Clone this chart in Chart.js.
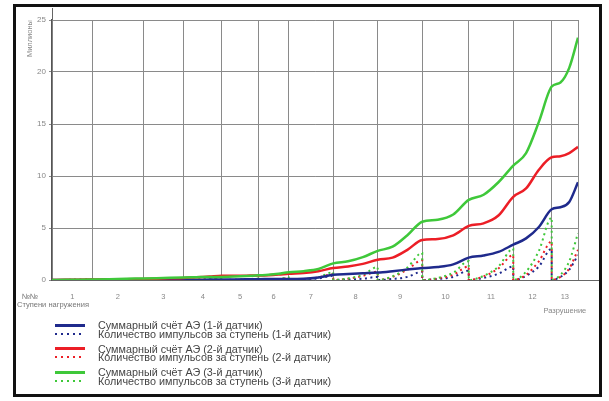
<!DOCTYPE html>
<html>
<head>
<meta charset="utf-8">
<script src="https://cdn.jsdelivr.net/npm/chart.js@4.4.1/dist/chart.umd.min.js"></script>
<style>
  html, body { margin: 0; padding: 0; background: #fff; }
  body { width: 609px; height: 401px; position: relative; overflow: hidden; font-family: "Liberation Sans", Arial, sans-serif; }
  #chart { position: absolute; left: 0; top: 0; }
  #frame { position: absolute; left: 13px; top: 4px; width: 589px; height: 393px; border: 3px solid #111; box-sizing: border-box; pointer-events: none; }
  #legend { position: absolute; left: 55px; top: 321px; font-size: 10.8px; color: #444; }
  .row { display: flex; align-items: center; height: 8.5px; line-height: 8.5px; white-space: nowrap; }
  .row.gap { margin-bottom: 6.5px; }
  .sample { width: 30px; flex: 0 0 30px; margin-right: 13px; }
</style>
</head>
<body>
<canvas id="chart" width="609" height="320"></canvas>
<div id="legend"></div>
<div id="frame"></div>
<script>
// Stage boundaries on the time axis
const stageEdges = [0, 10, 22.5, 32.5, 42, 51, 58.5, 69.5, 80.5, 91.5, 103, 114, 123.5, 130];
const stageLabels = ['1', '2', '3', '4', '5', '6', '7', '8', '9', '10', '11', '12', ['13', 'Разрушение']];
const yTickValues = [0, 5, 10, 15, 20, 25];

const seriesNames = [
  'Суммарный счёт АЭ (1-й датчик)',
  'Количество импульсов за ступень (1-й датчик)',
  'Суммарный счёт АЭ (2-й датчик)',
  'Количество импульсов за ступень (2-й датчик)',
  'Суммарный счёт АЭ (3-й датчик)',
  'Количество импульсов за ступень (3-й датчик)'
];

// Cumulative count, millions: start value, then 3 readings per stage (1/3, 2/3, end)
const sumBlue = [0,
  0, 0, 0,   0, 0, 0,   0.01, 0.01, 0.02,   0.03, 0.04, 0.05,   0.06, 0.07, 0.08,
  0.09, 0.1, 0.1,   0.12, 0.25, 0.5,   0.58, 0.65, 0.72,   0.85, 1.0, 1.15,
  1.25, 1.5, 2.15,   2.35, 2.7, 3.4,   4.0, 5.1, 6.8,   7.0, 7.5, 9.4];
const sumRed = [0,
  0.02, 0.03, 0.05,   0.07, 0.08, 0.1,   0.13, 0.16, 0.2,   0.27, 0.33, 0.4,   0.41, 0.42, 0.43,
  0.46, 0.52, 0.6,   0.68, 0.85, 1.15,   1.3, 1.55, 1.95,   2.15, 2.9, 3.85,
  3.95, 4.3, 5.2,   5.45, 6.2, 8.0,   8.8, 10.6, 11.8,   11.9, 12.2, 12.8];
const sumGreen = [0,
  0.02, 0.03, 0.05,   0.08, 0.12, 0.15,   0.18, 0.22, 0.25,   0.27, 0.29, 0.3,   0.33, 0.38, 0.45,
  0.5, 0.6, 0.75,   0.85, 1.05, 1.6,   1.8, 2.2, 2.8,   3.2, 4.3, 5.6,
  5.8, 6.3, 7.7,   8.2, 9.4, 11.0,   12.2, 15.2, 18.6,   19.0, 20.4, 23.3];

// Count within each stage (resets to 0 at stage start): 3 readings per stage
const stageBlue = [
  0, 0, 0.02,   0, 0, 0.02,   0, 0.01, 0.02,   0, 0.01, 0.03,   0, 0.01, 0.03,   0, 0.01, 0.03,
  0.05, 0.15, 0.4,   0.05, 0.12, 0.3,   0.1, 0.3, 0.8,   0.1, 0.3, 0.9,
  0.2, 0.6, 1.3,   0.4, 1.3, 3.0,   0.3, 1.0, 2.4];
const stageRed = [
  0.01, 0.02, 0.05,   0.01, 0.02, 0.05,   0.02, 0.04, 0.1,   0.04, 0.1, 0.2,   0.01, 0.02, 0.05,   0.03, 0.06, 0.15,
  0.08, 0.25, 0.55,   0.12, 0.4, 0.8,   0.3, 1.0, 1.9,   0.15, 0.5, 1.3,
  0.35, 1.1, 2.4,   0.5, 1.8, 3.7,   0.3, 1.1, 2.9];
const stageGreen = [
  0.01, 0.02, 0.05,   0.02, 0.04, 0.1,   0.02, 0.05, 0.1,   0.03, 0.06, 0.15,   0.03, 0.07, 0.15,   0.05, 0.1, 0.25,
  0.08, 0.25, 0.75,   0.15, 0.5, 1.25,   0.35, 1.2, 2.6,   0.2, 0.7, 1.8,
  0.4, 1.3, 3.0,   0.8, 2.8, 6.0,   0.5, 1.8, 4.5];

const blue = '#1f2a8c', red = '#ec1e26', green = '#3fc83a';
const font = '"Liberation Sans", Arial, sans-serif';

// times of the three readings inside stage s
function stageTimes(s) {
  const a = stageEdges[s], b = stageEdges[s + 1];
  return [a + (b - a) / 3, a + 2 * (b - a) / 3, b];
}

function sumPoints(vals) {
  const pts = [{ x: stageEdges[0], y: vals[0] }];
  for (let s = 0; s < stageLabels.length; s++) {
    stageTimes(s).forEach((t, j) => pts.push({ x: t, y: vals[1 + s * 3 + j] }));
  }
  return pts;
}

function stagePoints(vals) {
  const pts = [];
  for (let s = 0; s < stageLabels.length; s++) {
    pts.push({ x: stageEdges[s], y: 0 });
    stageTimes(s).forEach((t, j) => pts.push({ x: t, y: vals[s * 3 + j] }));
  }
  return pts;
}

function solid(label, vals, color, order) {
  return { label, data: sumPoints(vals), borderColor: color, borderWidth: 2.5,
    pointRadius: 0, cubicInterpolationMode: 'monotone', order };
}
function dotted(label, vals, color, order) {
  return { label, data: stagePoints(vals), borderColor: color, borderWidth: 2,
    borderDash: [2, 3.5], borderCapStyle: 'butt', pointRadius: 0,
    cubicInterpolationMode: 'monotone', order };
}

const datasets = [
  solid(seriesNames[0], sumBlue, blue, 2),
  dotted(seriesNames[1], stageBlue, blue, 5),
  solid(seriesNames[2], sumRed, red, 1),
  dotted(seriesNames[3], stageRed, red, 4),
  solid(seriesNames[4], sumGreen, green, 0),
  dotted(seriesNames[5], stageGreen, green, 3)
];

// stage centres carry the labels, stage edges carry the grid lines
const edgeSet = new Set(stageEdges);
const centreLabels = new Map();
stageLabels.forEach((l, i) => centreLabels.set((stageEdges[i] + stageEdges[i + 1]) / 2, l));

const extras = {
  id: 'extras',
  afterDraw(chart) {
    const { ctx, chartArea: a } = chart;
    ctx.save();
    ctx.strokeStyle = '#666';
    ctx.lineWidth = 1;
    ctx.beginPath();
    ctx.moveTo(a.right, a.bottom + 0.5);
    ctx.lineTo(600, a.bottom + 0.5);
    ctx.moveTo(a.left + 0.5, a.top - 12);
    ctx.lineTo(a.left + 0.5, a.top);
    ctx.stroke();
    ctx.fillStyle = '#777';
    ctx.font = '7.5px ' + font;
    ctx.textAlign = 'center';
    ctx.textBaseline = 'middle';
    ctx.fillText('№№', a.left - 22, a.bottom + 17);
    ctx.fillText('Ступени нагружения', a.left + 1, a.bottom + 25);
    ctx.restore();
  }
};

new Chart(document.getElementById('chart'), {
  type: 'line',
  data: { datasets },
  plugins: [extras],
  options: {
    responsive: false,
    animation: false,
    events: [],
    layout: { padding: { left: 0, right: 31, top: 20, bottom: 0 } },
    plugins: { legend: { display: false }, tooltip: { enabled: false } },
    scales: {
      x: {
        type: 'linear',
        min: stageEdges[0],
        max: stageEdges[stageEdges.length - 1],
        afterBuildTicks: scale => {
          const vals = [...stageEdges, ...centreLabels.keys()].sort((p, q) => p - q);
          scale.ticks = vals.map(v => ({ value: v }));
        },
        afterFit: scale => { scale.height = 40; },
        grid: {
          drawTicks: false,
          color: c => (c.tick && edgeSet.has(c.tick.value)) ? '#8a8a8a' : 'rgba(0,0,0,0)',
          lineWidth: 1
        },
        border: { color: '#666', width: 1 },
        ticks: {
          autoSkip: false,
          maxRotation: 0,
          minRotation: 0,
          padding: 10,
          color: '#888',
          font: { family: font, size: 7.5, lineHeight: '14px' },
          callback: v => centreLabels.has(v) ? centreLabels.get(v) : ''
        }
      },
      y: {
        min: 0,
        max: 25,
        afterBuildTicks: scale => { scale.ticks = yTickValues.map(v => ({ value: v })); },
        afterFit: scale => { scale.width = 52; },
        grid: { color: '#8a8a8a', lineWidth: 1, tickLength: 3 },
        border: { color: '#555', width: 1.2 },
        ticks: { padding: 3, color: '#888', font: { family: font, size: 8 } },
        title: {
          display: true,
          text: 'Миллионы',
          align: 'end',
          color: '#888',
          padding: { top: 25, bottom: 0 },
          font: { family: font, size: 7.5 }
        }
      }
    }
  }
});

// legend rows under the chart, same order as the original
const legend = document.getElementById('legend');
datasets.forEach((ds, i) => {
  const row = document.createElement('div');
  row.className = 'row' + (i % 2 === 1 ? ' gap' : '');
  const sample = document.createElement('div');
  sample.className = 'sample';
  if (ds.borderDash) {
    sample.style.height = '2px';
    sample.style.background = 'repeating-linear-gradient(to right, ' + ds.borderColor + ' 0 2px, transparent 2px 6px)';
  } else {
    sample.style.height = '3px';
    sample.style.background = ds.borderColor;
  }
  const text = document.createElement('span');
  text.textContent = ds.label;
  row.appendChild(sample);
  row.appendChild(text);
  legend.appendChild(row);
});
</script>
</body>
</html>
